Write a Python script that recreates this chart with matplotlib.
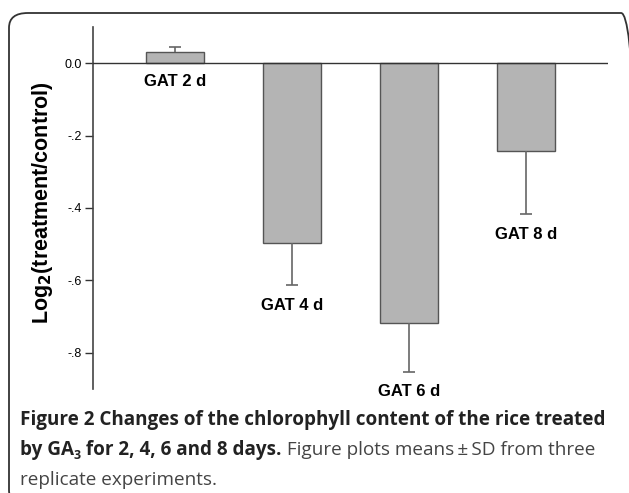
import matplotlib
matplotlib.use("Agg")
import matplotlib.pyplot as plt
from matplotlib.patches import FancyBboxPatch

# data
groups = ["GAT 2 d", "GAT 4 d", "GAT 6 d", "GAT 8 d"]
means = [0.030, -0.497, -0.717, -0.242]
sd = [0.015, 0.117, 0.136, 0.175]
yticks = [0.0, -0.2, -0.4, -0.6, -0.8]
ytick_labels = ["0.0", "-.2", "-.4", "-.6", "-.8"]

W, H = 629, 493
fig = plt.figure(figsize=(W / 100, H / 100), dpi=100)

def fx(px):
    return px / W

def fy(py):
    return 1 - py / H

# rounded frame around figure + caption
frame = FancyBboxPatch((fx(9), fy(505)), fx(640) - fx(9), fy(13) - fy(505),
                       boxstyle="round,pad=0,rounding_size=0.03",
                       transform=fig.transFigure, fill=False,
                       edgecolor="#333333", linewidth=1.3)
fig.patches.append(frame)

ax = fig.add_axes([fx(93), fy(389), fx(608) - fx(93), fy(27) - fy(389)])
x = list(range(len(groups)))

ax.bar(x, means, width=0.5, color="#b4b4b4", edgecolor="#555555",
       linewidth=1.0, zorder=2)

# error bars only on the side away from zero
pos = [i for i in x if means[i] > 0]
neg = [i for i in x if means[i] <= 0]
_, caps, _ = ax.errorbar(pos, [means[i] for i in pos],
                         yerr=[[0] * len(pos), [sd[i] for i in pos]],
                         fmt="none", ecolor="#666666", elinewidth=1.2,
                         capsize=4.5, capthick=1.2, zorder=3)
caps[0].set_visible(False)
_, caps, _ = ax.errorbar(neg, [means[i] for i in neg],
                         yerr=[[sd[i] for i in neg], [0] * len(neg)],
                         fmt="none", ecolor="#666666", elinewidth=1.2,
                         capsize=4.5, capthick=1.2, zorder=3)
caps[1].set_visible(False)
ax.axhline(0, color="#333333", linewidth=1.0, zorder=4)

# group labels below each bar / error bar
for xi, m, s in zip(x, means, sd):
    if m > 0:
        ytxt = -0.05
    else:
        ytxt = m - s - 0.055
    ax.text(xi, ytxt, groups[xi], ha="center", va="center",
            fontsize=12, fontweight="bold", family="Liberation Sans")

ax.set_xlim(-0.7, 3.7)
ax.set_ylim(-0.9, 0.1)
ax.set_xticks([])
ax.set_yticks(yticks)
ax.set_yticklabels(ytick_labels, family="Liberation Sans", fontsize=9)
ax.tick_params(axis="y", direction="out", length=6, width=1.0,
               color="#333333", pad=2)
for side in ["top", "right", "bottom"]:
    ax.spines[side].set_visible(False)
ax.spines["left"].set_color("#444444")
ax.spines["left"].set_linewidth(1.2)

fig.text(fx(43), fy(203), r"Log$_\mathbf{2}$(treatment/control)",
         rotation=90, ha="center", va="center", fontsize=15.5,
         fontweight="bold", family="Liberation Sans")

# caption with mixed weights and subscript
renderer = fig.canvas.get_renderer()
cap_font = "Open Sans"
cap_size = 13.6

def run(pieces, x0, base):
    xp = x0
    for txt, weight, size, dy in pieces:
        t = fig.text(fx(xp), fy(base + dy), txt, ha="left", va="baseline",
                     fontsize=size, fontweight=weight, family=cap_font,
                     color="#444444" if weight == "normal" else "#222222")
        bb = t.get_window_extent(renderer=renderer)
        xp += bb.width

run([("Figure 2 Changes of the chlorophyll content of the rice treated",
      "bold", cap_size, 0)], 20, 425)
run([("by GA", "bold", cap_size, 0), ("3", "bold", cap_size * 0.65, 4),
     (" for 2, 4, 6 and 8 days.", "bold", cap_size, 0),
     (" Figure plots means\u2009\u00b1\u2009SD from three", "normal", cap_size, 0)],
    20, 455)
run([("replicate experiments.", "normal", cap_size, 0)], 20, 485)

fig.savefig("out.png", dpi=100)
